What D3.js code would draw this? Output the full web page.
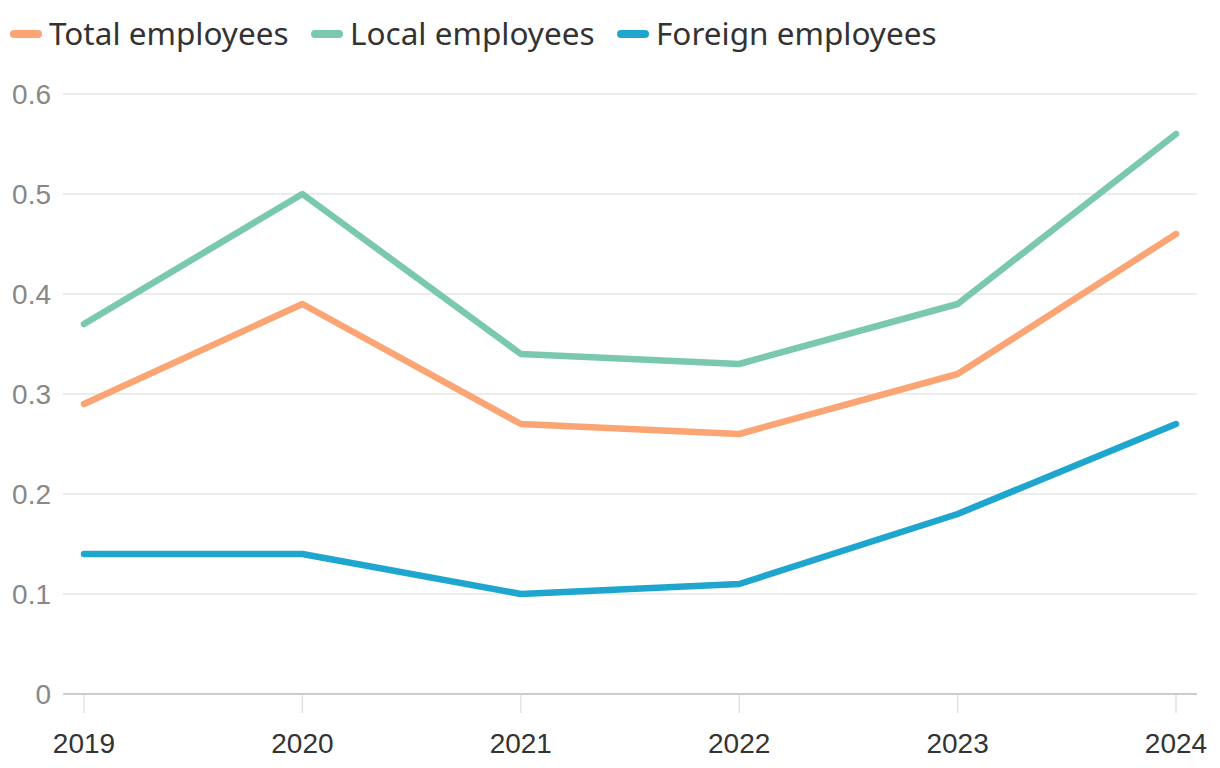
<!DOCTYPE html>
<html><head><meta charset="utf-8">
<script src="https://cdn.jsdelivr.net/npm/d3@7"></script>
<style>body{margin:0;background:#fff}</style>
</head><body>
<svg id="c" width="1220" height="768"></svg>
<script>
const years = ["2019","2020","2021","2022","2023","2024"];
const totalEmployees = [0.29,0.39,0.27,0.26,0.32,0.46];
const localEmployees = [0.37,0.50,0.34,0.33,0.39,0.56];
const foreignEmployees = [0.14,0.14,0.10,0.11,0.18,0.27];
const yTicks = [0,0.1,0.2,0.3,0.4,0.5,0.6];
const seriesNames = ["Total employees","Local employees","Foreign employees"];
const seriesColors = ["#fba474","#7ac8ae","#1ea6cf"];

const series = [totalEmployees, localEmployees, foreignEmployees].map((v,i)=>({name:seriesNames[i],color:seriesColors[i],values:v}));
const svg = d3.select("#c");
const x = d3.scalePoint().domain(years).range([84,1176]);
const y = d3.scaleLinear().domain([0,0.6]).range([694,94]);

// gridlines
svg.append("g").selectAll("line").data(yTicks.filter(d=>d>0)).join("line")
  .attr("x1",63).attr("x2",1197).attr("y1",d=>y(d)).attr("y2",d=>y(d))
  .attr("stroke","#e6e6e6").attr("stroke-width",1.5);
// y labels
svg.append("g").selectAll("text").data(yTicks).join("text")
  .attr("x",51).attr("y",d=>y(d)).attr("dy","0.36em").attr("text-anchor","end")
  .attr("font-family","Liberation Sans, Arial, sans-serif").attr("font-size",28).attr("fill","#888")
  .text(d=>d===0?"0":d3.format(".1f")(d));
// x ticks
svg.append("g").selectAll("line").data(years).join("line")
  .attr("x1",d=>x(d)).attr("x2",d=>x(d)).attr("y1",694).attr("y2",713)
  .attr("stroke","#e3e3e3").attr("stroke-width",1.5);
// baseline
svg.append("line").attr("x1",63).attr("x2",1197).attr("y1",y(0)).attr("y2",y(0))
  .attr("stroke","#ccc").attr("stroke-width",2);
// x labels
svg.append("g").selectAll("text").data(years).join("text")
  .attr("x",d=>x(d)).attr("y",753).attr("text-anchor","middle")
  .attr("font-family","Liberation Sans, Arial, sans-serif").attr("font-size",28).attr("fill","#333")
  .text(d=>d);
// lines
const line = d3.line().x((d,i)=>x(years[i])).y(d=>y(d));
svg.append("g").selectAll("path").data(series).join("path")
  .attr("d",d=>line(d.values)).attr("fill","none").attr("stroke",d=>d.color)
  .attr("stroke-width",6.5).attr("stroke-linejoin","round").attr("stroke-linecap","round");
// legend
const legendTextX = [49,350,656];
const lg = svg.append("g").selectAll("g").data(series).join("g")
  .attr("transform",(d,i)=>`translate(${legendTextX[i]},34)`);
lg.append("line").attr("x1",-35).attr("x2",-11).attr("y1",0).attr("y2",0)
  .attr("stroke",d=>d.color).attr("stroke-width",8).attr("stroke-linecap","round");
lg.append("text").attr("x",0).attr("y",0).attr("dy","0.35em")
  .attr("font-family","Noto Sans, sans-serif").attr("font-size",31.5).attr("fill","#333")
  .text(d=>d.name);
</script>
</body></html>
